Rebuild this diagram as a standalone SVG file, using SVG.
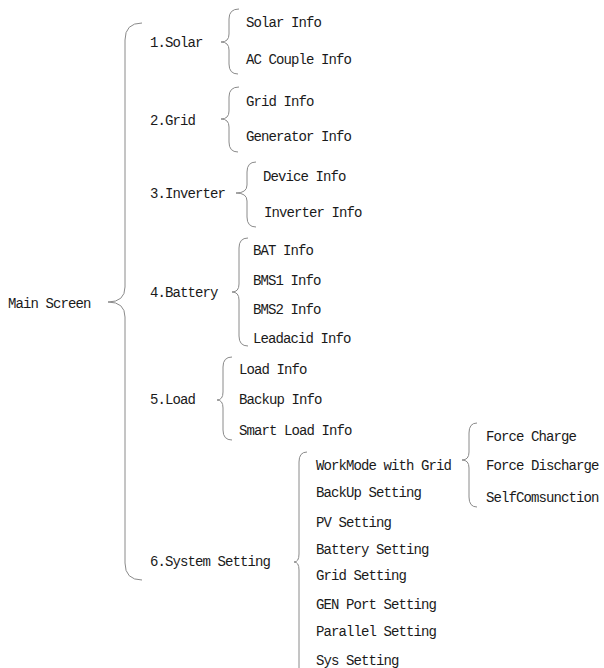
<svg xmlns="http://www.w3.org/2000/svg" width="604" height="668" viewBox="0 0 604 668">
<style>
text{font-family:"Liberation Mono","DejaVu Sans Mono",monospace;font-size:14px;letter-spacing:-0.9px;fill:#1a1a1a}
.b{fill:none;stroke:#8a8a8a;stroke-width:1}
</style>
<rect width="604" height="668" fill="#fff"/>
<g id="connectors">
<path class="b" d="M142,23 Q125,23 125,40 L125,287 Q125,302 108,302 Q125,302 125,317 L125,563 Q125,580 142,580"/>
<path class="b" d="M239,9 Q229,9 229,19 L229,34 Q229,42 221,42 Q229,42 229,50 L229,64 Q229,74 238,74"/>
<path class="b" d="M239,87 Q229,87 229,97 L229,111 Q229,119 221,119 Q229,119 229,127 L229,142 Q229,152 238,152"/>
<path class="b" d="M256,162 Q247,162 247,172 L247,185 Q247,193 236,193 Q247,193 247,201 L247,217 Q247,227 256,227"/>
<path class="b" d="M248,238 Q239,238 239,248 L239,284 Q239,292 232,292 Q239,292 239,300 L239,336 Q239,346 248,346"/>
<path class="b" d="M232,357 Q223,357 223,367 L223,392 Q223,400 217,400 Q223,400 223,408 L223,430 Q223,440 232,440"/>
<path class="b" d="M307,452 Q299,452 299,462 L299,554 Q299,562 294,562 Q299,562 299,570 L299,680"/>
<path class="b" d="M477,423 Q469,423 469,433 L469,452 Q469,460 462,460 Q469,460 469,468 L469,497 Q469,507 477,507"/>
</g>
<g id="main"><text x="8" y="307.5">Main Screen</text></g>
<g id="solar"><text x="150" y="46.5">1.Solar</text></g>
<g id="solar-info"><text x="246" y="26.5">Solar Info</text></g>
<g id="ac-couple"><text x="246" y="63.5">AC Couple Info</text></g>
<g id="grid"><text x="150" y="124.5">2.Grid</text></g>
<g id="grid-info"><text x="246" y="105.5">Grid Info</text></g>
<g id="generator-info"><text x="246" y="140.5">Generator Info</text></g>
<g id="inverter"><text x="150" y="197.5">3.Inverter</text></g>
<g id="device-info"><text x="263" y="180.5">Device Info</text></g>
<g id="inverter-info"><text x="264" y="216.5">Inverter Info</text></g>
<g id="battery"><text x="150" y="296.5">4.Battery</text></g>
<g id="bat-info"><text x="253" y="254.5">BAT Info</text></g>
<g id="bms1-info"><text x="253" y="284.5">BMS1 Info</text></g>
<g id="bms2-info"><text x="253" y="313.5">BMS2 Info</text></g>
<g id="leadacid-info"><text x="253" y="342.5">Leadacid Info</text></g>
<g id="load"><text x="150" y="403.5">5.Load</text></g>
<g id="load-info"><text x="239" y="373.5">Load Info</text></g>
<g id="backup-info"><text x="239" y="403.5">Backup Info</text></g>
<g id="smart-load-info"><text x="239" y="434.5">Smart Load Info</text></g>
<g id="system-setting"><text x="150" y="565.5">6.System Setting</text></g>
<g id="workmode"><text x="316" y="469.5">WorkMode with Grid</text></g>
<g id="backup-setting"><text x="316" y="496.5">BackUp Setting</text></g>
<g id="pv-setting"><text x="316" y="526.5">PV Setting</text></g>
<g id="battery-setting"><text x="316" y="553.5">Battery Setting</text></g>
<g id="grid-setting"><text x="316" y="579.5">Grid Setting</text></g>
<g id="gen-port-setting"><text x="316" y="608.5">GEN Port Setting</text></g>
<g id="parallel-setting"><text x="316" y="635.5">Parallel Setting</text></g>
<g id="sys-setting"><text x="316" y="664.5">Sys Setting</text></g>
<g id="force-charge"><text x="486" y="440.5">Force Charge</text></g>
<g id="force-discharge"><text x="486" y="469.5">Force Discharge</text></g>
<g id="selfcomsunction"><text x="486" y="501.5">SelfComsunction</text></g>
</svg>
